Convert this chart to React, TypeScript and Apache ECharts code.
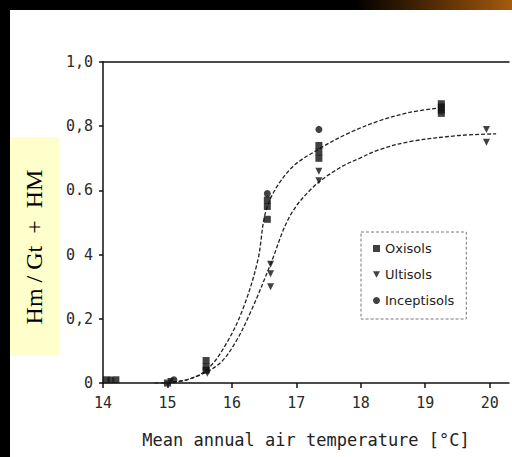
import React, { useEffect, useRef } from "react";
import * as echarts from "echarts";

const xTicks = [14, 15, 16, 17, 18, 19, 20];
const yTicks = [0, 0.2, 0.4, 0.6, 0.8, 1.0];
const yTickLabels = ["0", "0,2", "0 4", "0.6", "0,8", "1,0"];

const oxisols: number[][] = [
  [14.05, 0.01], [14.2, 0.01], [15.0, 0.0], [15.6, 0.07], [15.6, 0.05], [15.6, 0.04],
  [16.55, 0.57], [16.55, 0.55], [16.55, 0.51], [17.35, 0.74], [17.35, 0.72], [17.35, 0.7],
  [19.25, 0.87], [19.25, 0.86], [19.25, 0.85], [19.25, 0.84],
];
const ultisols: number[][] = [
  [15.05, 0.005], [15.62, 0.03], [16.6, 0.37], [16.6, 0.34], [16.6, 0.3],
  [17.35, 0.66], [17.35, 0.63], [19.95, 0.79], [19.95, 0.75],
];
const inceptisols: number[][] = [
  [14.12, 0.01], [15.1, 0.01], [16.55, 0.59], [17.35, 0.79],
];

const upperCurveX = [14.8, 15.3, 15.63, 15.92, 16.17, 16.4, 16.55, 16.9, 17.36, 17.83, 18.29, 18.76, 19.22];
const upperCurveY = [0.0, 0.01, 0.045, 0.125, 0.23, 0.38, 0.55, 0.665, 0.73, 0.78, 0.817, 0.843, 0.857];
const lowerCurveX = [14.9, 15.3, 15.78, 16.05, 16.31, 16.6, 16.9, 17.26, 17.67, 17.98, 18.29, 18.76, 19.53, 20.1];
const lowerCurveY = [0.0, 0.01, 0.056, 0.125, 0.23, 0.37, 0.52, 0.61, 0.67, 0.7, 0.727, 0.752, 0.771, 0.776];

const xAxisTitle = "Mean annual air temperature [°C]";
const yAxisTitle = "Hm / Gt  +  HM";
const legendNames = ["Oxisols", "Ultisols", "Inceptisols"];
const legendIcons = ["rect", "path://M0,0L10,0L5,9Z", "circle"];

const zip = (xs: number[], ys: number[]) => xs.map((x, i) => [x, ys[i]]);

export default function App() {
  const ref = useRef<HTMLDivElement>(null);
  useEffect(() => {
    if (!ref.current) return;
    const chart = echarts.init(ref.current, undefined, { renderer: "svg" });
    const tickFont = "'DejaVu Sans Mono', monospace";
    const markerColor = "#111";
    const curveStyle = { color: "#222", width: 1.3, type: [4, 2] as any };
    chart.setOption({
      animation: false,
      backgroundColor: "#000",
      grid: { left: 103, top: 62, right: 3, bottom: 74 },
      graphic: [
        { type: "rect", z: -10, shape: { x: 10, y: 10, width: 502, height: 447 }, style: { fill: "#fff" } },
        {
          type: "rect", z: -10, shape: { x: 355, y: 0, width: 157, height: 10 },
          style: {
            fill: new echarts.graphic.LinearGradient(0, 0, 1, 0, [
              { offset: 0, color: "#000" },
              { offset: 0.45, color: "#4a2604" },
              { offset: 1, color: "#a55a10" },
            ]),
          },
        },
        { type: "rect", z: 5, shape: { x: 10, y: 137, width: 49, height: 219 }, style: { fill: "#ffffcc" } },
        {
          type: "text", z: 6, x: 34, y: 247, rotation: Math.PI / 2,
          style: {
            text: yAxisTitle, fill: "#000", font: "24px 'Liberation Serif', serif",
            align: "center", verticalAlign: "middle",
          },
        },
      ],
      legend: {
        data: legendNames.map((n, i) => ({ name: n, icon: legendIcons[i] })),
        orient: "vertical",
        left: 361,
        top: 232,
        padding: [10, 12, 12, 12],
        itemGap: 13,
        itemWidth: 7,
        itemHeight: 7,
        borderColor: "#777",
        borderWidth: 1,
        borderType: [3, 2],
        textStyle: { fontSize: 13, color: "#222", fontFamily: "'DejaVu Sans', sans-serif", lineHeight: 12 },
      },
      xAxis: [
        {
          type: "value", min: 14, max: 20.3, position: "bottom",
          axisLine: { show: true, onZero: false, lineStyle: { color: "#111", width: 1.5 } },
          axisTick: { show: true, length: 5, customValues: xTicks, lineStyle: { color: "#111", width: 1.5 } },
          axisLabel: {
            customValues: xTicks, margin: 12, fontSize: 15, color: "#2a2a2a", fontFamily: tickFont,
            formatter: (v: number) => String(v),
          },
          splitLine: { show: false },
          name: xAxisTitle, nameLocation: "middle", nameGap: 48,
          nameTextStyle: { fontSize: 17, color: "#222", fontFamily: tickFont },
        },
        {
          type: "value", min: 14, max: 20.3, position: "top",
          axisLine: { show: true, onZero: false, lineStyle: { color: "#111", width: 1.5 } },
          axisTick: { show: false }, axisLabel: { show: false }, splitLine: { show: false },
        },
      ],
      yAxis: {
        type: "value", min: 0, max: 1,
        axisLine: { show: true, onZero: false, lineStyle: { color: "#111", width: 1.5 } },
        axisTick: { show: true, length: 4, customValues: yTicks, lineStyle: { color: "#111", width: 1.5 } },
        axisLabel: {
          customValues: yTicks, margin: 10, fontSize: 15, color: "#2a2a2a", fontFamily: tickFont,
          formatter: (v: number) => {
            const i = yTicks.findIndex((t) => Math.abs(t - v) < 1e-6);
            return i >= 0 ? yTickLabels[i] : "";
          },
        },
        splitLine: { show: false },
      },
      series: [
        {
          type: "line", data: zip(upperCurveX, upperCurveY), smooth: 0.35,
          showSymbol: false, lineStyle: curveStyle, silent: true, z: 1,
        },
        {
          type: "line", data: zip(lowerCurveX, lowerCurveY), smooth: 0.35,
          showSymbol: false, lineStyle: curveStyle, silent: true, z: 1,
        },
        {
          name: "Oxisols", type: "scatter", data: oxisols, symbol: "rect", symbolSize: [7, 7],
          itemStyle: { color: markerColor },
        },
        {
          name: "Ultisols", type: "scatter", data: ultisols, symbol: "triangle", symbolSize: 7,
          symbolRotate: 180, itemStyle: { color: markerColor },
        },
        {
          name: "Inceptisols", type: "scatter", data: inceptisols, symbol: "circle", symbolSize: 7,
          itemStyle: { color: markerColor },
        },
      ],
    });
    return () => chart.dispose();
  }, []);
  return (
    <div
      ref={ref}
      style={{ position: "fixed", left: 0, top: 0, width: 512, height: 457, background: "#000" }}
    />
  );
}
